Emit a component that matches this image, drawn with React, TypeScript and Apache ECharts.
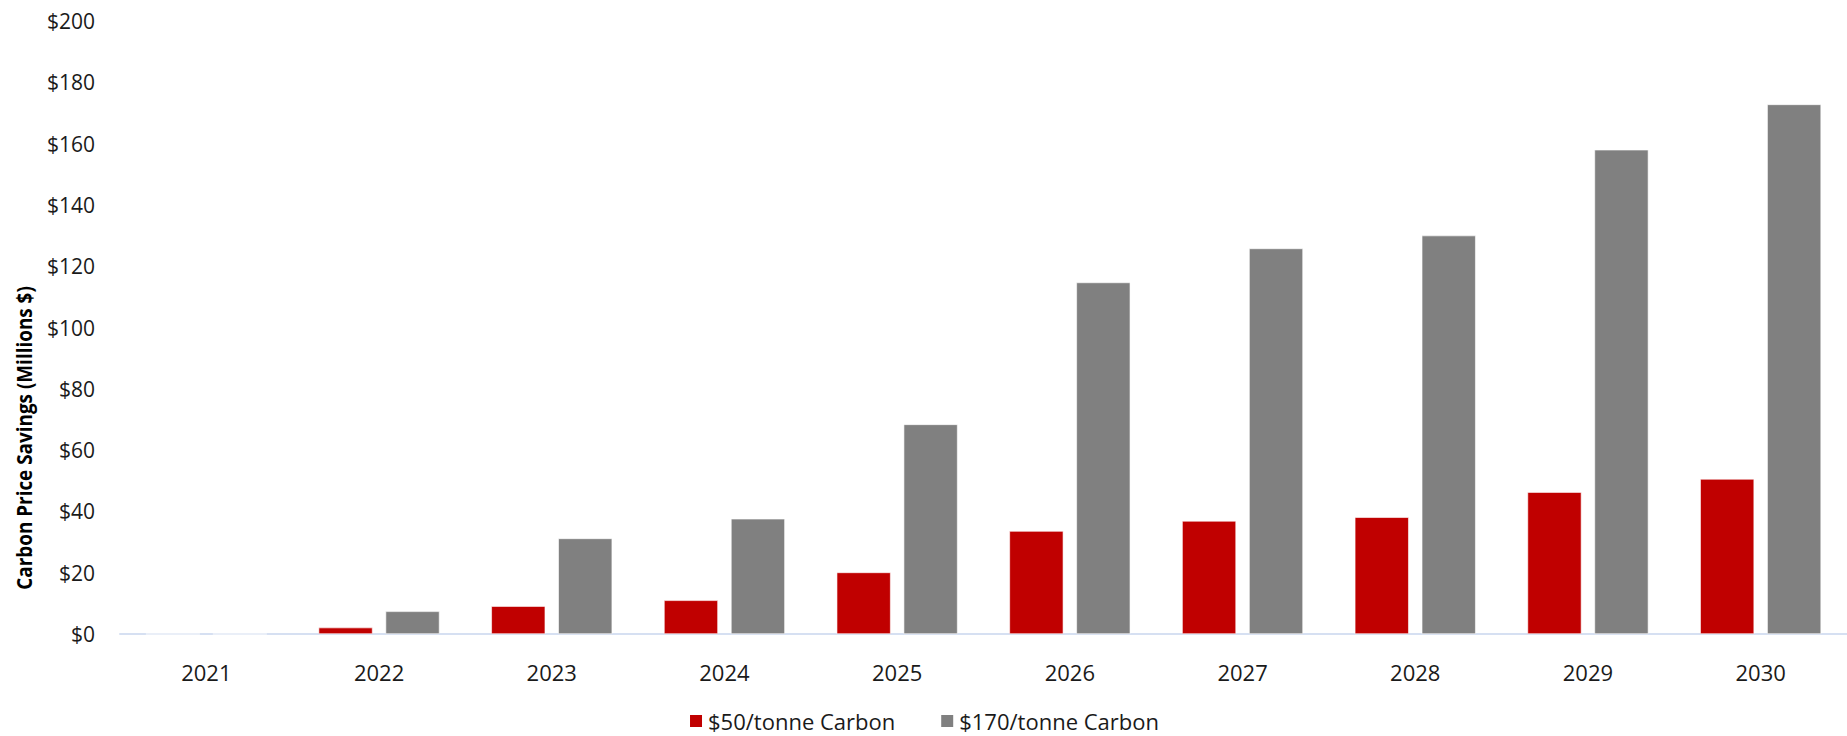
import React, { useEffect, useRef } from "react";
import * as echarts from "echarts";

// Years on the category axis
const years = ["2021", "2022", "2023", "2024", "2025", "2026", "2027", "2028", "2029", "2030"];

// Carbon price savings, millions of dollars
const savings50 = [0, 2.1, 9.1, 11.0, 20.1, 33.6, 36.9, 38.1, 46.3, 50.6];
const savings170 = [0, 7.4, 31.2, 37.6, 68.4, 114.7, 125.8, 130.0, 158.0, 172.8];

const seriesNames = ["$50/tonne Carbon", "$170/tonne Carbon"];
const yAxisTitle = "Carbon Price Savings (Millions $)";

const FONT = "'Open Sans', 'Noto Sans', sans-serif";
const TEXT = "#1a1a1a";

export default function App() {
  const ref = useRef<HTMLDivElement>(null);

  useEffect(() => {
    if (!ref.current) return;
    const chart = echarts.init(ref.current, null, { renderer: "svg" });
    chart.setOption({
      animation: false,
      backgroundColor: "#ffffff",
      textStyle: { fontFamily: FONT, color: TEXT },
      // plot area runs slightly past the right edge of the canvas
      grid: { left: 120, width: 1735, top: 21, bottom: 102, containLabel: false },
      legend: {
        data: seriesNames,
        left: "center",
        top: 709,
        padding: 0,
        icon: "rect",
        itemWidth: 14,
        itemHeight: 14,
        itemGap: 44,
        textStyle: { fontFamily: FONT, fontSize: 22, color: TEXT, lineHeight: 24 },
      },
      xAxis: {
        type: "category",
        data: years,
        axisLine: { show: true, lineStyle: { color: "#d6e0f2", width: 2 } },
        axisTick: { show: false },
        axisLabel: { margin: 27, fontSize: 22, color: TEXT, fontFamily: FONT },
        splitLine: { show: false },
      },
      yAxis: {
        type: "value",
        min: 0,
        max: 200,
        interval: 20,
        axisLine: { show: false },
        axisTick: { show: false },
        splitLine: { show: false },
        axisLabel: {
          margin: 25,
          fontSize: 21,
          color: TEXT,
          fontFamily: FONT,
          formatter: (v: number) => "$" + v,
        },
      },
      graphic: [
        {
          type: "text",
          x: 24,
          y: 438,
          rotation: Math.PI / 2,
          scaleX: 0.9,
          style: {
            text: yAxisTitle,
            fontFamily: FONT,
            fontWeight: "bold",
            fontSize: 21,
            fill: "#000000",
            align: "center",
            verticalAlign: "middle",
          },
        },
      ],
      series: [
        {
          name: seriesNames[0],
          type: "bar",
          data: savings50,
          barWidth: 54,
          barGap: "24%",
          itemStyle: { color: "#c00000", borderColor: "#ffffff", borderWidth: 0.6 },
        },
        {
          name: seriesNames[1],
          type: "bar",
          data: savings170,
          barWidth: 54,
          barGap: "24%",
          itemStyle: { color: "#808080", borderColor: "#ffffff", borderWidth: 0.6 },
        },
      ],
    });
    return () => chart.dispose();
  }, []);

  return (
    <div
      ref={ref}
      style={{ position: "fixed", left: 0, top: 0, width: 1847, height: 736 }}
    />
  );
}
